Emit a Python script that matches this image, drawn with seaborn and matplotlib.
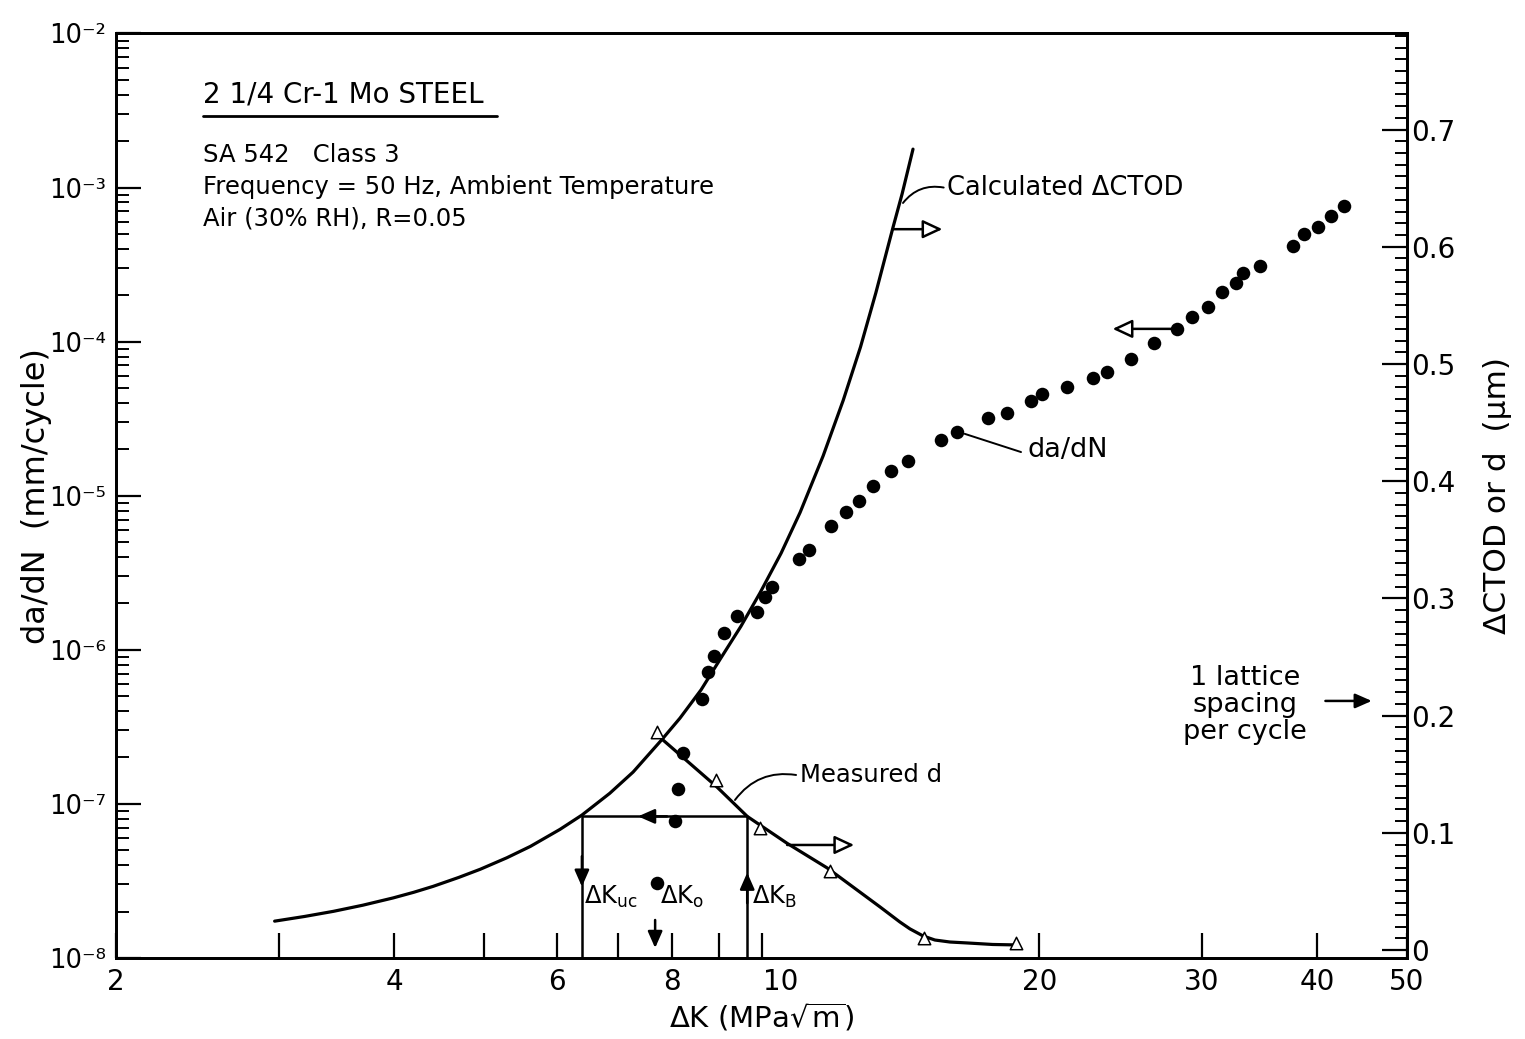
import matplotlib
matplotlib.use("Agg")
import matplotlib.pyplot as plt
import seaborn as sns
from matplotlib.ticker import FixedLocator, FixedFormatter, LogLocator, NullLocator, NullFormatter
from matplotlib.transforms import ScaledTranslation

# ---- fatigue crack growth rate, da/dN (mm/cycle) vs ΔK (MPa√m) ----
dk_rate = [7.71, 8.06, 8.12, 8.22, 8.62, 8.75, 8.88, 9.11, 9.41, 9.89, 10.09, 10.26,
           10.98, 11.26, 11.89, 12.35, 12.75, 13.21, 13.81, 14.41, 15.65, 16.28, 17.59,
           18.44, 19.58, 20.12, 21.42, 22.86, 23.67, 25.13, 26.61, 28.18, 29.26, 30.45,
           31.52, 32.64, 33.22, 34.66, 37.64, 38.68, 40.06, 41.38, 42.74]
dadn = [3.07e-8, 7.76e-8, 1.25e-7, 2.14e-7, 4.80e-7, 7.19e-7, 9.12e-7, 1.29e-6, 1.66e-6,
        1.76e-6, 2.20e-6, 2.56e-6, 3.89e-6, 4.45e-6, 6.37e-6, 7.85e-6, 9.25e-6, 1.16e-5,
        1.45e-5, 1.68e-5, 2.30e-5, 2.59e-5, 3.20e-5, 3.44e-5, 4.12e-5, 4.58e-5, 5.08e-5,
        5.81e-5, 6.36e-5, 7.72e-5, 9.81e-5, 1.21e-4, 1.45e-4, 1.68e-4, 2.10e-4, 2.40e-4,
        2.79e-4, 3.10e-4, 4.18e-4, 5.00e-4, 5.55e-4, 6.54e-4, 7.60e-4]

# ---- calculated ΔCTOD (µm) ----
dk_ctod = [2.97, 3.20, 3.44, 3.70, 3.99, 4.20, 4.41, 4.70, 4.96, 5.30, 5.62, 6.05, 6.39,
           6.85, 7.26, 7.80, 8.16, 8.60, 9.02, 9.50, 9.96, 10.50, 11.01, 11.66, 12.26,
           12.80, 13.30, 13.88, 14.20, 14.59]
ctod = [0.0246, 0.0286, 0.0330, 0.0382, 0.0444, 0.0492, 0.0543, 0.0619, 0.0689, 0.0787,
        0.0884, 0.1029, 0.1151, 0.1337, 0.1518, 0.1795, 0.1978, 0.2219, 0.2481, 0.2762,
        0.3045, 0.3385, 0.3733, 0.4215, 0.4690, 0.5145, 0.5608, 0.6165, 0.6452, 0.6833]

# ---- measured d (µm): fitted curve and measured points ----
dk_d_curve = [7.80, 8.95, 9.65, 10.66, 11.78, 13.44, 14.12, 14.48, 14.96, 15.41, 16.00,
              16.70, 17.80, 18.91]
d_curve = [0.180, 0.139, 0.114, 0.091, 0.070, 0.0367, 0.0239, 0.0180, 0.0120, 0.0085,
           0.0068, 0.0060, 0.0047, 0.0043]
dk_d_pts = [7.71, 8.93, 9.96, 11.86, 15.00, 18.86]
d_pts = [0.186, 0.145, 0.104, 0.067, 0.010, 0.006]

# ---- threshold construction ----
dk_uc = 6.39
dk_o = 7.67
dk_b = 9.65
d_construct = 0.114
lattice_d = 0.2125

# ---- tick values / labels ----
x_ticks = [2, 3, 4, 5, 6, 7, 8, 9, 10, 20, 30, 40, 50]
x_labels = ["2", "", "4", "", "6", "", "8", "", "10", "20", "30", "40", "50"]
y_ticks = [1e-8, 1e-7, 1e-6, 1e-5, 1e-4, 1e-3, 1e-2]
y_labels = ["10⁻⁸", "10⁻⁷", "10⁻⁶", "10⁻⁵", "10⁻⁴", "10⁻³", "10⁻²"]
r_ticks = [0.0, 0.1, 0.2, 0.3, 0.4, 0.5, 0.6, 0.7]
r_labels = ["0", "0.1", "0.2", "0.3", "0.4", "0.5", "0.6", "0.7"]

sns.set_style("ticks")
plt.rcParams["font.family"] = ["DejaVu Sans"]
plt.rcParams["mathtext.default"] = "regular"
for key in ("text.color", "axes.labelcolor", "xtick.color", "ytick.color", "axes.edgecolor"):
    plt.rcParams[key] = "black"

fig = plt.figure(figsize=(15.25, 10.39), dpi=100)
ax = fig.add_axes([0.0761, 0.0780, 0.8465, 0.8898])
ax.set_xscale("log")
ax.set_yscale("log")
ax.set_xlim(2, 50)
ax.set_ylim(1e-8, 1e-2)
ax2 = ax.twinx()

# data
sns.scatterplot(x=dk_rate, y=dadn, ax=ax, color="black", s=95, edgecolor="black",
                linewidth=0, zorder=3)
sns.lineplot(x=dk_ctod, y=ctod, ax=ax2, color="black", lw=2.3, estimator=None, sort=False)
sns.lineplot(x=dk_d_curve, y=d_curve, ax=ax2, color="black", lw=2.3, estimator=None, sort=False)
sns.scatterplot(x=dk_d_pts, y=d_pts, ax=ax2, marker="^", s=80, color="white",
                edgecolor="black", linewidth=1.1, zorder=4)
ax2.set_ylim(-0.0068, 0.782)

# axes styling
for a in (ax, ax2):
    for sp in a.spines.values():
        sp.set_linewidth(2.0)
        sp.set_color("black")

ax.xaxis.set_major_locator(FixedLocator(x_ticks))
ax.xaxis.set_major_formatter(FixedFormatter(x_labels))
ax.xaxis.set_minor_locator(NullLocator())
ax.yaxis.set_major_locator(FixedLocator(y_ticks))
ax.yaxis.set_major_formatter(FixedFormatter(y_labels))
ax.yaxis.set_minor_locator(LogLocator(base=10, subs=range(2, 10), numticks=20))
ax.yaxis.set_minor_formatter(NullFormatter())
ax.tick_params(axis="both", which="major", direction="in", length=18, width=1.6,
               labelsize=20, top=False, right=False, pad=7)
ax.tick_params(axis="y", which="major", labelsize=18.5)
ax.tick_params(axis="y", which="minor", direction="in", length=9, width=1.4, right=False)

ax2.yaxis.set_major_locator(FixedLocator(r_ticks))
ax2.yaxis.set_major_formatter(FixedFormatter(r_labels))
ax2.yaxis.set_minor_locator(FixedLocator([i / 100 for i in range(0, 79)]))
ax2.tick_params(axis="y", which="major", direction="in", length=18, width=1.6,
                labelsize=20, pad=3)
ax2.tick_params(axis="y", which="minor", direction="in", length=9, width=1.4)

ax.set_xlabel(r"ΔK (MPa$\sqrt{m}$)", fontsize=21, labelpad=4)
ax.set_ylabel("da/dN  (mm/cycle)", fontsize=23)
ax.yaxis.set_label_coords(-0.050, 0.5)
ax2.set_ylabel("ΔCTOD or d  (μm)", fontsize=22.5)
ax2.yaxis.set_label_coords(1.059, 0.5)

# the "10" label sits a little to the right of its tick
lab10 = ax.xaxis.get_major_ticks()[8].label1
lab10.set_transform(lab10.get_transform() + ScaledTranslation(0.19, 0, fig.dpi_scale_trans))

# header block
fs = 17.5
ax.text(0.0674, 0.9335, "2 1/4 Cr-1 Mo STEEL", transform=ax.transAxes, fontsize=20,
        va="center", ha="left")
ax.plot([0.0674, 0.2951], [0.9108, 0.9108], transform=ax.transAxes, color="black", lw=2)
ax.text(0.0674, 0.8686, "SA 542   Class 3", transform=ax.transAxes, fontsize=fs,
        va="center", ha="left")
ax.text(0.0674, 0.8340, "Frequency = 50 Hz, Ambient Temperature", transform=ax.transAxes,
        fontsize=fs, va="center", ha="left")
ax.text(0.0674, 0.7994, "Air (30% RH), R=0.05", transform=ax.transAxes, fontsize=fs,
        va="center", ha="left")

open_head = dict(arrowstyle="-|>,head_length=0.6,head_width=0.28", fc="white", ec="black",
                 lw=1.8, mutation_scale=20, shrinkA=0, shrinkB=0)
solid_head = dict(arrowstyle="-|>,head_length=0.5,head_width=0.22", fc="black", ec="black",
                  lw=1.8, mutation_scale=20, shrinkA=0, shrinkB=0)
leader = dict(arrowstyle="-", color="black", lw=1.4, shrinkA=0, shrinkB=0)

# calculated ΔCTOD label and pointer to right axis
ax.text(15.9, 1.0e-3, "Calculated ΔCTOD", fontsize=18.5, va="center", ha="left")
ax.annotate("", xy=(15.75, 1.0e-3), xytext=(14.23, 7.94e-4),
            arrowprops=dict(leader, connectionstyle="arc3,rad=-0.3"))
ax2.annotate("", xy=(15.7, 0.615), xytext=(13.88, 0.615), arrowprops=open_head)

# da/dN label and pointer to left axis
ax.text(19.4, 1.98e-5, "da/dN", fontsize=19.5, va="center", ha="left")
ax.annotate("", xy=(19.1, 1.92e-5), xytext=(16.6, 2.52e-5), arrowprops=leader)
ax.annotate("", xy=(24.0, 1.21e-4), xytext=(28.18, 1.21e-4), arrowprops=open_head)

# measured d label and pointer to right axis
ax.text(11.0, 1.54e-7, "Measured d", fontsize=fs, va="center", ha="left")
ax.annotate("", xy=(10.9, 1.54e-7), xytext=(9.36, 1.06e-7),
            arrowprops=dict(leader, connectionstyle="arc3,rad=-0.3"))
ax2.annotate("", xy=(12.6, 0.0896), xytext=(10.66, 0.0896), arrowprops=open_head)

# threshold construction lines
y_bot = ax2.get_ylim()[0]
ax2.plot([dk_uc, dk_uc, dk_b, dk_b], [y_bot, d_construct, d_construct, y_bot],
         color="black", lw=1.8)
ax2.annotate("", xy=(7.35, d_construct), xytext=(7.9, d_construct), arrowprops=solid_head)
ax2.annotate("", xy=(dk_uc, 0.054), xytext=(dk_uc, 0.080), arrowprops=solid_head)
ax2.annotate("", xy=(dk_b, 0.066), xytext=(dk_b, 0.040), arrowprops=solid_head)
ax2.annotate("", xy=(dk_o, 0.0017), xytext=(dk_o, 0.0256), arrowprops=solid_head)

ax.text(6.43, 2.49e-8, r"$\Delta K_{uc}$", fontsize=fs, va="center", ha="left")
ax.text(7.76, 2.49e-8, r"$\Delta K_{o}$", fontsize=fs, va="center", ha="left")
ax.text(9.77, 2.49e-8, r"$\Delta K_{B}$", fontsize=fs, va="center", ha="left")

# one lattice spacing per cycle
ax.text(33.4, 4.39e-7, "1 lattice\nspacing\nper cycle", fontsize=19.5, va="center",
        ha="center", linespacing=1.05)
ax2.annotate("", xy=(45.8, lattice_d), xytext=(40.8, lattice_d), arrowprops=solid_head)

fig.savefig("out.png", dpi=100)
